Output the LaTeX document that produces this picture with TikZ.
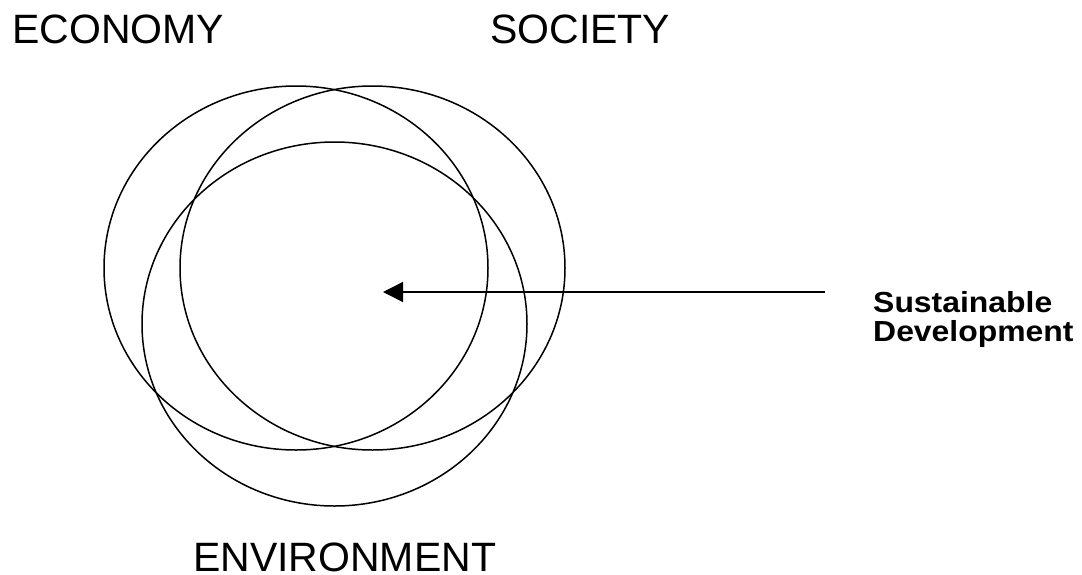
\documentclass[tikz,border=0pt]{standalone}
\usepackage{fontspec}
\setmainfont{Liberation Sans}
\usetikzlibrary{arrows.meta}
\begin{document}
\begin{tikzpicture}[x=1pt,y=-1pt,
  ring/.style={line width=1.5pt},
  biglabel/.style={inner sep=0pt,anchor=base west,font=\fontsize{41pt}{49pt}\selectfont},
  sdlabel/.style={inner sep=0pt,anchor=base west,xscale=1.1,font=\fontsize{29pt}{29pt}\selectfont\bfseries},
  pointer/.style={line width=1.5pt,-{Triangle[length=20pt,width=20pt]}}]
\useasboundingbox (0,0) rectangle (1082,574);
\draw[ring] (296,268) ellipse [x radius=192, y radius=182];
\draw[ring] (372.5,268) ellipse [x radius=192.5, y radius=182];
\draw[ring] (334.5,324) ellipse [x radius=192.5, y radius=182];
\node[biglabel] (econ) at (12,43) {ECONOMY};
\node[biglabel] (soc) at (490,43) {SOCIETY};
\node[biglabel] (env) at (193,571) {ENVIRONMENT};
\node[sdlabel] (sd1) at (873,312) {Sustainable};
\node[sdlabel] (sd2) at (873,341) {Development};
\coordinate (sdstart) at (825,292);
\coordinate (core) at (383,292);
\draw[pointer] (sdstart) -- (core);
\end{tikzpicture}
\end{document}
